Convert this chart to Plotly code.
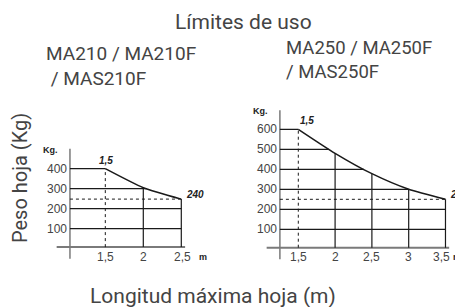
import plotly.graph_objects as go

# ---- data ----
left_x = [1.5, 2.0, 2.5]
left_kg = [400, 305, 248]
left_yticks = [100, 200, 300, 400]
left_xticks = ["1,5", "2", "2,5"]

right_x = [1.5, 2.0, 2.5, 3.0, 3.5]
right_kg = [600, 480, 378, 300, 250]
right_yticks = [100, 200, 300, 400, 500, 600]
right_xticks = ["1,5", "2", "2,5", "3", "3,5"]

title = "Límites de uso"
left_title = "MA210 / MA210F<br> / MAS210F"
right_title = "MA250 / MA250F<br>/ MAS250F"
x_title = "Longitud máxima hoja (m)"
y_title = "Peso hoja (Kg)"
max_label = "1,5"
min_label = "240"

W, H = 463, 307
OFF = 8  # page body margin
TXT = "#444444"
LINE = "#1a1a1a"
AXC = "#7a7a7a"

fig = go.Figure()


def interp_x(xs, ys, v):
    # x where the decreasing curve reaches value v
    for i in range(len(xs) - 1):
        if ys[i] >= v >= ys[i + 1]:
            if ys[i] == ys[i + 1]:
                return xs[i]
            return xs[i] + (ys[i] - v) / (ys[i] - ys[i + 1]) * (xs[i + 1] - xs[i])
    return xs[-1]


def panel(xs, ys, yticks, xtick_labels, xa, yax_off, xax_left, xax_right, ytop,
          m_shift, kg_shift, one_shift, last_tick_shift):
    xr = "x" if xa == 1 else "x%d" % xa
    yr = "y" if xa == 1 else "y%d" % xa
    tickfont = dict(family="Liberation Sans, Arial, sans-serif", size=12, color=TXT)
    y_axis_x = xs[0] - yax_off
    base = 8
    # axes lines
    fig.add_trace(go.Scatter(x=[xs[0] - xax_left, xs[-1] + xax_right], y=[base, base], mode="lines",
                             line=dict(color=AXC, width=2), xaxis=xr, yaxis=yr, hoverinfo="skip"))
    fig.add_trace(go.Scatter(x=[y_axis_x, y_axis_x], y=[-50, ytop], mode="lines",
                             line=dict(color=AXC, width=1.5), xaxis=xr, yaxis=yr, hoverinfo="skip"))
    # horizontal grid lines
    for v in yticks:
        xe = interp_x(xs, ys, v)
        fig.add_trace(go.Scatter(x=[y_axis_x, xe], y=[v, v], mode="lines",
                                 line=dict(color=LINE, width=1.2), xaxis=xr, yaxis=yr, hoverinfo="skip"))
    # dashed min line
    fig.add_trace(go.Scatter(x=[y_axis_x, xs[-1]], y=[ys[-1], ys[-1]], mode="lines",
                             line=dict(color=LINE, width=1, dash="dot"), xaxis=xr, yaxis=yr, hoverinfo="skip"))
    # vertical lines
    for i, (xv, yv) in enumerate(zip(xs, ys)):
        fig.add_trace(go.Scatter(x=[xv, xv], y=[base, yv], mode="lines",
                                 line=dict(color=LINE, width=1 if i == 0 else 1.2, dash="dot" if i == 0 else "solid"),
                                 xaxis=xr, yaxis=yr, hoverinfo="skip"))
    # curve
    fig.add_trace(go.Scatter(x=xs, y=ys, mode="lines", line=dict(color=LINE, width=1.5, shape="spline", smoothing=0.6),
                             xaxis=xr, yaxis=yr, hoverinfo="skip"))
    # y tick labels
    for v in yticks:
        fig.add_annotation(x=y_axis_x, y=v, xref=xr, yref=yr, text=str(v), showarrow=False,
                           xanchor="right", yanchor="middle", xshift=-1, font=tickfont)
    # x tick labels
    n = len(xs)
    for i, (xv, t) in enumerate(zip(xs, xtick_labels)):
        fig.add_annotation(x=xv, y=0, xref=xr, yref=yr, text=t, showarrow=False,
                           xanchor="center", yanchor="middle", yshift=-8,
                           xshift=last_tick_shift if i == n - 1 else 0, font=tickfont)
    # unit m
    fig.add_annotation(x=xs[-1], y=0, xref=xr, yref=yr, text="<b>m</b>", showarrow=False,
                       xanchor="left", yanchor="middle", xshift=m_shift, yshift=-8,
                       font=dict(family="Liberation Sans, Arial", size=9, color="#222"))
    # Kg.
    fig.add_annotation(x=y_axis_x, y=ytop, xref=xr, yref=yr, text="<b>Kg.</b>", showarrow=False,
                       xanchor="right", yanchor="middle", xshift=-10, yshift=kg_shift,
                       font=dict(family="Liberation Sans Narrow, Liberation Sans, Arial", size=9, color="#222"))
    # 1,5 label
    fig.add_annotation(x=xs[0], y=ys[0], xref=xr, yref=yr, text="<b><i>%s</i></b>" % max_label, showarrow=False,
                       xanchor="left", yanchor="bottom", xshift=one_shift, yshift=1,
                       font=dict(family="Liberation Sans, Arial", size=10, color="#222"))
    # 240 label
    fig.add_annotation(x=xs[-1], y=ys[-1], xref=xr, yref=yr, text="<b><i>%s</i></b>" % min_label, showarrow=False,
                       xanchor="left", yanchor="middle", xshift=3, yshift=5,
                       font=dict(family="Liberation Sans, Arial", size=10, color="#222"))


panel(left_x, left_kg, left_yticks, left_xticks, 1, 0.465, 0.64, 0.05, 500, 16, -1, -8, 1)
panel(right_x, right_kg, right_yticks, right_xticks, 2, 0.25, 0.43, 0.05, 695, 6, -1, 0, -4)


def px_x(p):
    return (p - OFF) / W


def px_y(p):
    return 1 - (p - OFF) / H


ax_common = dict(visible=False, fixedrange=True)
fig.update_layout(
    width=W, height=H, margin=dict(l=0, r=0, t=0, b=0),
    paper_bgcolor="white", plot_bgcolor="rgba(0,0,0,0)", showlegend=False,
    xaxis=dict(range=[0.5, 2.9], domain=[px_x(29.3), px_x(211.7)], **ax_common),
    yaxis=dict(range=[-100, 550], domain=[px_y(268.7), px_y(138.7)], **ax_common),
    xaxis2=dict(range=[1.0, 3.7], domain=[px_x(261.5), px_x(460.2)], anchor="y2", **ax_common),
    yaxis2=dict(range=[-100, 750], domain=[px_y(269.3), px_y(99.3)], anchor="x2", **ax_common),
)

RB = dict(family="Roboto, sans-serif", color=TXT)
fig.add_annotation(x=px_x(243), y=px_y(22), xref="paper", yref="paper", text=title, showarrow=False,
                   xanchor="center", yanchor="middle", font=dict(size=21, **RB))
fig.add_annotation(x=px_x(44), y=px_y(40), xref="paper", yref="paper", text=left_title, showarrow=False,
                   xanchor="left", yanchor="top", align="left", font=dict(size=19, **RB))
fig.add_annotation(x=px_x(284), y=px_y(35), xref="paper", yref="paper", text=right_title, showarrow=False,
                   xanchor="left", yanchor="top", align="left", font=dict(size=18.5, **RB))
fig.add_annotation(x=px_x(213), y=px_y(296), xref="paper", yref="paper", text=x_title, showarrow=False,
                   xanchor="center", yanchor="middle", font=dict(size=21, **RB))
fig.add_annotation(x=px_x(20), y=px_y(178), xref="paper", yref="paper", text=y_title, showarrow=False,
                   textangle=-90, xanchor="center", yanchor="middle", font=dict(size=20, **RB))

fig.write_html("out.html")
